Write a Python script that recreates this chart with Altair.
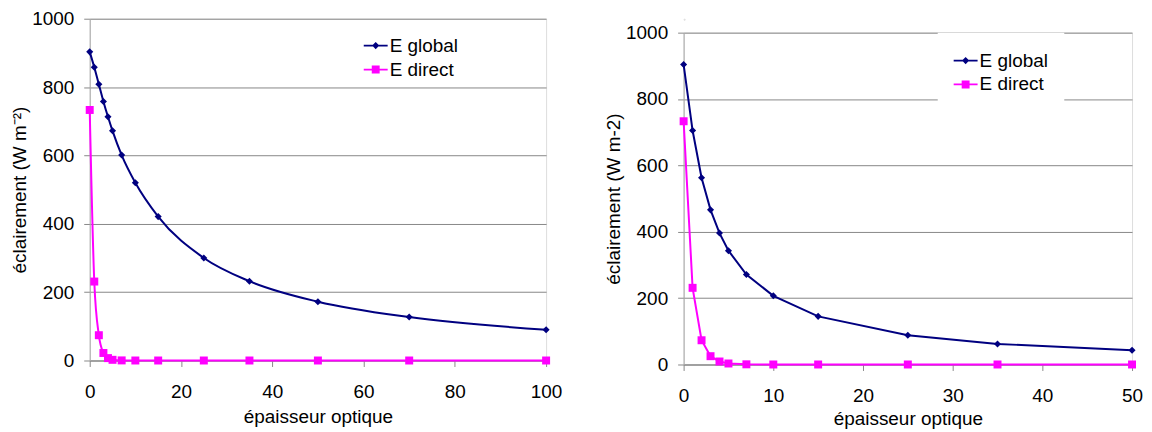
import altair as alt
import pandas as pd

SERIES = ["E global", "E direct"]
COLORS = ["#000080", "#FF00FF"]

tau_left = [0, 1, 2, 3, 4, 5, 7, 10, 15, 25, 35, 50, 70, 100]
global_left = [903, 858, 808, 758, 713, 672, 601, 520, 421, 300, 232, 172, 127, 90]
direct_left = [733, 231, 74, 22, 7, 2, 0.3, 0, 0, 0, 0, 0, 0, 0]

tau_right = [0, 1, 2, 3, 4, 5, 7, 10, 15, 25, 35, 50]
global_right = [904, 705, 563, 466, 396, 343, 271, 207, 145, 88, 62, 43]
direct_right = [733, 231, 73, 25, 9, 3, 0.5, 0, 0, 0, 0, 0]

x_ticks_left = [0, 20, 40, 60, 80, 100]
x_ticks_right = [0, 10, 20, 30, 40, 50]
y_ticks = [0, 200, 400, 600, 800, 1000]

FONT = "Liberation Sans"

# legend symbols: a short line with the marker on it (filled paths)
LEG_GLOBAL = "M-1,-0.075H1V0.075H-1Z M-0.3,0L0,-0.3L0.3,0L0,0.3Z"
LEG_DIRECT = "M-1,-0.075H1V0.075H-1Z M-0.33,-0.33H0.33V0.33H-0.33Z"


def make_df(tau, g, d):
    rows = []
    for t, v in zip(tau, g):
        rows.append({"tau": t, "val": v, "series": SERIES[0]})
    for t, v in zip(tau, d):
        rows.append({"tau": t, "val": v, "series": SERIES[1]})
    return pd.DataFrame(rows)


def panel(df, xmax, xticks, ytitle, width, height, interp, leg_x, leg_y, leg_pad,
          leg_fill, x_title_pad):
    legend = alt.Legend(
        title=None, orient="none", legendX=leg_x, legendY=leg_y,
        padding=leg_pad, symbolSize=576, symbolStrokeWidth=0,
        labelFont=FONT, labelFontSize=19, labelColor="black",
        labelOffset=2, rowPadding=2, symbolOpacity=1,
        **({"fillColor": "white", "labelExpr": "datum.label + '   '"} if leg_fill else {}),
    )
    color_enc = alt.Color("series:N", scale=alt.Scale(domain=SERIES, range=COLORS),
                          legend=legend, sort=SERIES)
    shape_enc = alt.Shape("series:N",
                          scale=alt.Scale(domain=SERIES, range=[LEG_GLOBAL, LEG_DIRECT]),
                          legend=legend, sort=SERIES)
    x_enc = alt.X(
        "tau:Q",
        scale=alt.Scale(domain=[0, xmax], nice=False, padding=0, zero=True),
        axis=alt.Axis(
            values=xticks, title="épaisseur optique", grid=False, format="d",
            labelFlush=False, labelOverlap=False,
            domainColor="#888888", tickColor="#888888", tickSize=6,
            labelPadding=16, titlePadding=x_title_pad, labelFontSize=19, titleFontSize=19,
            titleFontWeight="normal", labelFont=FONT, titleFont=FONT,
            labelColor="black", titleColor="black",
        ),
    )
    y_enc = alt.Y(
        "val:Q",
        scale=alt.Scale(domain=[0, 1000], nice=False, padding=0),
        axis=alt.Axis(
            values=y_ticks, title=ytitle, grid=True, gridColor="#888888", format="d",
            labelFlush=False, labelOverlap=False,
            domainColor="#a8a8a8", tickColor="#888888", tickSize=6,
            labelPadding=10, titlePadding=2, labelFontSize=19, titleFontSize=19,
            titleFontWeight="normal", labelFont=FONT, titleFont=FONT,
            labelColor="black", titleColor="black",
        ),
    )
    base = alt.Chart(df)
    lines = base.mark_line(strokeWidth=2, interpolate=interp).encode(
        x=x_enc, y=y_enc, color=color_enc,
    )
    pts_g = base.transform_filter(alt.datum.series == SERIES[0]).mark_point(
        shape="diamond", filled=True, size=50, opacity=1
    ).encode(x="tau:Q", y="val:Q", color=color_enc)
    pts_d = base.transform_filter(alt.datum.series == SERIES[1]).mark_point(
        shape="square", filled=True, size=64, opacity=1
    ).encode(x="tau:Q", y="val:Q", color=color_enc)

    leg_layer = base.transform_filter("datum.val < -5000").mark_point(
        filled=True, opacity=1
    ).encode(x="tau:Q", y="val:Q", color=color_enc, shape=shape_enc)
    return alt.layer(lines, pts_g, pts_d, leg_layer).properties(width=width, height=height)


left = panel(make_df(tau_left, global_left, direct_left), 100, x_ticks_left,
             "éclairement (W m⁻²)", 458, 343, "monotone", 269, 9, 6, False, 6)
right = panel(make_df(tau_right, global_right, direct_right), 50, x_ticks_right,
              "éclairement (W m-2)", 450, 333, "linear", 255, 14, 16, True, 4)

# invisible spacer that lowers the right panel a little
spacer = alt.Chart(pd.DataFrame({"a": [0]})).mark_text(text="", opacity=0).encode(
    x=alt.X("a:Q", axis=None), y=alt.Y("a:Q", axis=None)
).properties(width=1, height=1)

right_col = alt.vconcat(spacer, right, spacing=-2)

chart = alt.hconcat(left, right_col, spacing=41).resolve_scale(
    color="independent", shape="independent"
).resolve_legend(color="independent", shape="independent").configure_view(
    stroke=None
).configure(padding={"left": 2, "top": 0, "right": 0, "bottom": 0})

chart.save("out.html", embed_options={"renderer": "svg", "actions": False})
